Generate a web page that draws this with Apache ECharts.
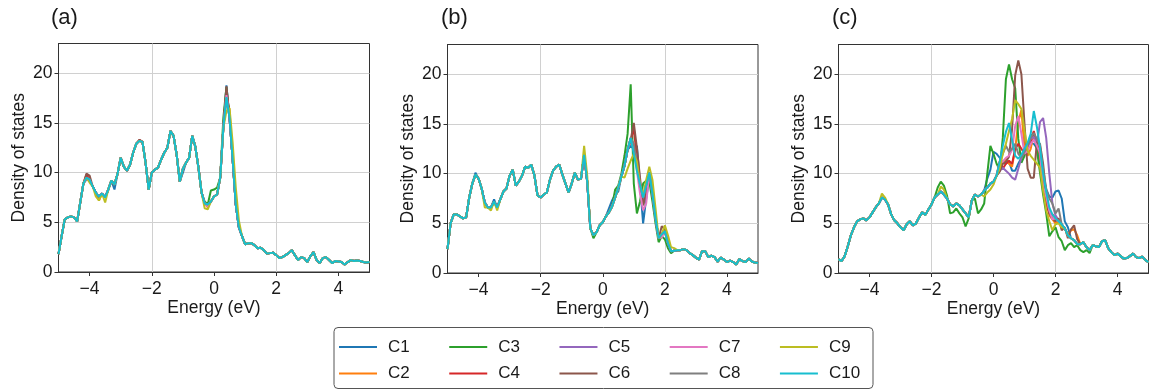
<!DOCTYPE html>
<html><head><meta charset="utf-8">
<script src="https://cdn.jsdelivr.net/npm/echarts@6/dist/echarts.min.js"></script>
<style>html,body{margin:0;padding:0;background:#fff}#chart{width:1149px;height:390px}</style>
</head><body><div id="chart"></div>
<script>
// ---------- data ----------
const energy = [
 -5.0,-4.9,-4.8,-4.7,-4.6,-4.5,-4.4,-4.3,-4.2,-4.1,
 -4.0,-3.9,-3.8,-3.7,-3.6,-3.5,-3.4,-3.3,-3.2,-3.1,
 -3.0,-2.9,-2.8,-2.7,-2.6,-2.5,-2.4,-2.3,-2.2,-2.1,
 -2.0,-1.9,-1.8,-1.7,-1.6,-1.5,-1.4,-1.3,-1.2,-1.1,
 -1.0,-0.9,-0.8,-0.7,-0.6,-0.5,-0.4,-0.3,-0.2,-0.1,
 0.0,0.1,0.2,0.3,0.4,0.5,0.6,0.7,0.8,0.9,
 1.0,1.1,1.2,1.3,1.4,1.5,1.6,1.7,1.8,1.9,
 2.0,2.1,2.2,2.3,2.4,2.5,2.6,2.7,2.8,2.9,
 3.0,3.1,3.2,3.3,3.4,3.5,3.6,3.7,3.8,3.9,
 4.0,4.1,4.2,4.3,4.4,4.5,4.6,4.7,4.8,4.9,
 5.0];
const seriesNames = ['C1','C2','C3','C4','C5','C6','C7','C8','C9','C10'];
const seriesColors = ['#1f77b4','#ff7f0e','#2ca02c','#d62728','#9467bd','#8c564b','#e377c2','#7f7f7f','#bcbd22','#17becf'];
const panelTitles = ['(a)','(b)','(c)'];
const xTicks = [-4,-2,0,2,4];
const yTicks = [0,5,10,15,20];

// common curve of each panel (C10, drawn on top)
const dosA = [
 1.8,3.6,5.3,5.5,5.6,5.5,5.1,7.0,8.9,9.5,
 9.3,8.6,8.0,7.6,7.9,7.5,8.3,9.2,8.8,9.9,
 11.5,10.6,10.2,10.8,12.0,12.9,13.2,13.1,11.0,8.3,
 10.0,10.3,10.5,11.3,12.0,12.5,14.2,13.7,11.8,9.1,
 10.4,11.0,11.5,13.7,12.6,10.5,8.0,6.9,6.8,7.1,
 7.6,7.8,9.5,14.5,17.6,15.5,11.3,6.8,4.5,3.6,
 2.8,2.9,2.9,2.7,2.4,2.45,2.2,1.85,1.9,1.95,
 1.7,1.4,1.5,1.7,1.9,2.2,1.7,1.2,1.5,1.4,
 1.0,1.6,2.0,1.2,0.9,1.4,1.5,1.2,0.9,1.1,
 1.05,1.0,0.75,1.0,1.2,1.1,1.15,1.1,1.0,0.95,
 1.0];
const dosB = [
 2.4,5.0,5.9,5.9,5.7,5.5,5.6,7.6,9.0,9.9,
 9.5,8.5,7.1,6.6,6.6,7.2,6.6,7.4,8.2,8.5,
 9.8,10.4,8.8,9.2,9.8,10.7,10.6,10.9,9.8,7.8,
 7.6,7.9,8.1,9.4,10.3,10.7,10.9,9.9,9.0,8.1,
 9.0,10.1,9.4,9.5,11.9,9.2,4.5,3.8,4.1,4.8,
 5.1,5.7,6.1,6.7,7.6,8.6,9.7,10.8,12.4,13.6,
 12.0,10.3,8.9,7.6,8.8,10.1,8.0,5.5,3.5,3.9,
 4.2,3.0,2.2,2.25,2.3,2.3,2.4,2.3,2.0,1.8,
 1.55,1.35,2.2,2.2,1.6,1.75,1.6,1.15,1.55,1.35,
 1.1,1.25,1.1,0.85,1.4,1.2,1.1,1.45,1.15,1.05,
 1.0];
const dosC = [
 1.4,1.2,1.7,2.7,3.8,4.6,5.2,5.4,5.5,5.3,
 5.6,6.1,6.6,7.0,7.6,7.4,6.9,5.9,5.3,5.0,
 4.6,4.3,4.9,5.2,4.8,5.0,5.6,6.1,5.85,6.4,
 6.9,7.6,7.9,8.2,7.9,7.5,6.9,6.7,7.0,6.8,
 6.4,6.0,5.6,7.3,7.9,7.7,7.9,8.3,8.6,9.0,
 9.2,9.8,11.2,12.8,14.2,15.1,13.4,11.8,11.5,11.9,
 12.5,13.1,14.0,16.3,14.7,12.6,10.0,8.2,6.6,5.9,
 5.5,5.2,4.9,4.5,3.8,3.5,3.3,2.9,2.9,3.1,
 2.6,2.3,2.8,2.7,2.6,3.2,3.3,2.5,2.1,1.8,
 1.95,1.7,1.45,1.5,1.7,1.95,1.6,1.5,1.65,1.3,
 1.1];

// where a configuration departs from the common curve: [energy, DOS]
const devA = {
 C1: [[-3.2,8.3],[-1.0,10.0],[0.4,18.8]],
 C2: [[-3.7,7.2],[-0.2,6.5],[0.5,16.3]],
 C3: [[-0.3,7.1],[-0.1,8.2],[0.0,8.3],[0.1,8.5],[0.3,15.5],[0.4,18.6]],
 C4: [[-4.1,9.8],[-2.4,13.3],[0.4,18.2]],
 C5: [[-4.1,9.3],[0.4,17.9]],
 C6: [[-4.1,9.9],[-4.0,9.7],[-2.4,13.3],[0.4,18.7]],
 C7: [[-0.2,6.6],[0.4,17.8]],
 C8: [[-3.7,7.4],[0.4,17.5]],
 C9: [[-4.0,9.0],[-3.8,7.6],[-3.7,7.2],[-3.5,7.0],[-0.3,6.4],[-0.2,6.3],[0.4,16.2],[0.5,16.5],[0.6,13.0],[0.7,8.5],[0.8,5.2]],
 C10: []
};
const devB = {
 C1: [[-4.1,10.1],[-3.5,7.4],[0.2,6.5],[0.3,7.3],[0.4,7.9],[0.5,8.2],[0.9,12.8],[1.0,12.5],[1.1,12.8],[1.2,9.0],[1.3,5.0],[1.4,7.5],[1.5,9.6]],
 C2: [[1.0,12.9],[1.1,11.5],[1.3,7.2],[2.0,4.5]],
 C3: [[-0.3,3.5],[0.4,8.4],[0.5,8.8],[0.6,10.0],[0.7,11.8],[0.8,14.0],[0.9,19.0],[1.0,9.0],[1.1,6.0],[1.2,7.2],[1.3,9.0],[1.4,9.3],[1.5,9.2],[1.6,7.2],[1.7,5.0],[1.8,3.1],[1.9,3.7],[2.0,3.4],[2.1,2.5],[2.2,2.0]],
 C4: [[0.9,13.3],[1.0,14.6],[1.1,11.5],[1.3,7.0]],
 C5: [[1.0,12.3],[1.1,11.8],[1.3,7.2]],
 C6: [[0.9,13.4],[1.0,15.1],[1.1,12.6],[1.2,9.6],[1.3,6.8],[1.4,8.0],[1.9,4.7],[2.0,4.4]],
 C7: [[1.0,12.5],[1.2,8.0],[1.3,6.3],[1.4,7.0],[1.9,3.6]],
 C8: [[1.0,13.0],[1.1,11.0]],
 C9: [[-3.8,6.6],[-3.6,6.3],[-3.4,6.3],[-0.6,12.8],[-0.5,9.8],[0.7,9.6],[0.8,10.5],[0.9,11.3],[1.0,12.0],[1.1,11.2],[1.3,7.8],[1.4,9.4],[1.5,10.7],[1.6,9.4],[1.7,6.5],[1.9,3.9],[2.0,4.8],[2.1,3.8],[2.2,2.6],[2.3,2.5]],
 C10: []
};
const devC = {
 C1: [[-0.2,9.5],[-0.1,10.4],[0.0,12.2],[0.1,12.0],[0.2,11.6],[0.3,11.1],[0.4,11.0],[0.5,11.2],[0.6,10.3],[0.7,10.3],[0.8,11.0],[0.9,11.6],[1.0,12.1],[1.1,12.8],[1.2,13.1],[1.3,13.0],[1.4,12.6],[1.5,11.0],[1.6,9.8],[1.7,8.4],[1.8,7.7],[1.9,7.6],[2.0,8.2],[2.1,8.3],[2.2,7.5],[2.3,5.2],[2.4,4.6]],
 C2: [[0.3,11.0],[0.4,11.5],[0.5,11.0],[0.6,10.7],[0.7,12.5],[0.8,15.2],[0.9,16.4],[1.0,12.5],[1.1,11.8],[1.2,12.5],[1.3,14.0],[1.4,13.2],[1.5,11.8],[1.6,9.5],[1.7,7.5],[1.8,5.8],[1.9,5.4],[2.0,5.0],[2.5,4.3],[2.6,4.4],[2.7,3.8]],
 C3: [[-1.8,8.6],[-1.7,9.2],[-1.6,8.8],[-1.5,7.8],[-1.4,6.0],[-1.3,6.1],[-1.2,6.5],[-1.1,6.0],[-1.0,5.6],[-0.9,4.7],[-0.8,5.5],[-0.7,7.3],[-0.6,7.5],[-0.5,6.0],[-0.4,6.4],[-0.3,7.0],[-0.2,10.0],[-0.1,12.8],[0.0,12.0],[0.1,11.0],[0.2,10.4],[0.3,13.6],[0.4,19.5],[0.5,21.0],[0.6,19.5],[0.7,18.6],[0.8,13.5],[0.9,11.1],[1.0,11.8],[1.1,12.8],[1.2,13.8],[1.3,14.1],[1.4,12.4],[1.5,10.1],[1.6,7.9],[1.7,6.0],[1.8,3.7],[1.9,4.2],[2.0,4.6],[2.1,3.6],[2.2,3.2],[2.3,2.3],[2.4,2.8],[2.5,3.0],[2.6,2.6],[2.7,2.8],[2.8,2.3],[2.9,2.1],[3.0,2.3],[3.1,2.0]],
 C4: [[0.3,10.5],[0.4,11.0],[0.5,11.3],[0.6,11.0],[0.7,12.5],[0.8,13.0],[0.9,12.5],[1.0,12.0],[1.1,12.5],[1.2,13.2],[1.3,14.3],[1.4,13.0],[1.5,12.0],[1.6,9.5],[1.7,7.0],[1.8,6.0]],
 C5: [[0.2,10.3],[0.3,10.6],[0.4,10.3],[0.5,10.0],[0.6,9.6],[0.7,9.4],[0.8,10.5],[0.9,11.6],[1.0,12.2],[1.1,12.8],[1.2,13.5],[1.3,13.7],[1.4,12.9],[1.5,15.2],[1.6,15.6],[1.7,13.6],[1.8,10.0],[1.9,7.0],[2.0,5.8],[2.1,5.3],[2.2,4.7]],
 C6: [[0.2,10.2],[0.3,11.0],[0.4,11.2],[0.5,11.7],[0.6,14.5],[0.7,19.9],[0.8,21.4],[0.9,20.0],[1.0,15.0],[1.1,10.5],[1.2,9.6],[1.3,9.6],[1.4,13.2],[1.5,13.0],[1.6,11.0],[1.7,8.0],[1.8,6.0],[1.9,5.5],[2.0,5.2],[2.1,5.5],[2.2,4.3],[2.3,4.6],[2.4,3.5],[2.5,4.4],[2.6,4.8],[2.7,3.4]],
 C7: [[0.3,11.2],[0.4,11.6],[0.5,11.8],[0.6,12.4],[0.7,14.8],[0.8,15.8],[0.9,14.0],[1.0,12.0],[1.1,12.3],[1.2,13.0],[1.3,13.4],[1.4,12.8],[1.5,12.1],[1.6,8.7],[1.7,7.7],[1.8,6.3],[1.9,5.4]],
 C8: [[0.3,12.0],[0.4,12.8],[0.5,12.2],[0.6,12.5],[0.7,13.0],[0.8,12.0],[0.9,11.6],[1.0,12.2],[1.1,12.8],[1.2,13.6],[1.3,14.1],[1.4,13.5],[1.5,12.8],[1.6,10.5],[1.7,8.5],[1.8,7.5],[1.9,7.0],[2.0,6.0],[2.1,6.5]],
 C9: [[-3.6,8.0],[-3.5,7.6],[-1.7,8.7],[-1.6,8.4],[-0.3,7.7],[-0.2,8.1],[-0.1,8.4],[0.0,8.9],[0.1,9.8],[0.2,10.5],[0.3,12.0],[0.4,13.0],[0.5,14.3],[0.6,15.5],[0.7,17.4],[0.8,17.0],[0.9,16.5],[1.0,14.3],[1.1,12.3],[1.2,11.8],[1.3,11.4],[1.4,11.0],[1.5,10.6],[1.6,8.3],[1.7,6.3],[1.8,5.2],[1.9,4.3],[2.0,4.9],[2.1,5.0],[2.2,4.6]],
 C10: []
};

// ---------- chart ----------
const FONT = '"Liberation Sans", Arial, sans-serif';
const TXT = '#1a1a1a';
const grids = [
  {left: 58.5, top: 43.5, width: 311, height: 228.5},
  {left: 447.5, top: 44.5, width: 310.5, height: 228.5},
  {left: 838.5, top: 44.5, width: 310, height: 228.5}
];
const titleLeft = [51, 441, 832];

function buildSeries(base, dev, name) {
  const m = new Map((dev[name] || []).map(p => [p[0].toFixed(1), p[1]]));
  return energy.map((e, i) => [e, m.has(e.toFixed(1)) ? m.get(e.toFixed(1)) : base[i]]);
}
const fmt = v => (v < 0 ? '\u2212' + (-v) : String(v));

const panels = [[dosA, devA], [dosB, devB], [dosC, devC]];
const series = [];
panels.forEach(([base, dev], p) => {
  seriesNames.forEach((n, k) => {
    series.push({
      type: 'line', name: n, xAxisIndex: p, yAxisIndex: p,
      data: buildSeries(base, dev, n),
      symbol: 'none', showSymbol: false, clip: true,
      lineStyle: {width: 2, color: seriesColors[k]},
      itemStyle: {color: seriesColors[k]},
      emphasis: {disabled: true}
    });
  });
});

const option = {
  animation: false,
  backgroundColor: '#fff',
  textStyle: {fontFamily: FONT},
  title: panelTitles.map((t, i) => ({
    text: t, left: titleLeft[i], top: 7, padding: 0,
    textStyle: {fontSize: 22, fontWeight: 'normal', color: TXT, fontFamily: FONT}
  })),
  grid: grids.map(g => Object.assign({show: true, borderColor: '#333', borderWidth: 1, backgroundColor: 'transparent'}, g)),
  xAxis: grids.map((g, i) => ({
    gridIndex: i, type: 'value', min: -5, max: 5, interval: 1,
    name: 'Energy (eV)', nameLocation: 'middle', nameGap: 27, nameMoveOverlap: false,
    nameTextStyle: {fontSize: 17.5, color: TXT, fontFamily: FONT},
    axisLine: {show: true, onZero: false, lineStyle: {color: '#333', width: 1}},
    axisTick: {show: true, customValues: xTicks, length: 4, lineStyle: {color: '#333'}},
    axisLabel: {customValues: xTicks, formatter: fmt, fontSize: 17.5, color: TXT, margin: 8, fontFamily: FONT},
    splitLine: {show: true, lineStyle: {color: ['rgba(0,0,0,0)', '#d0d0d0'], width: 1}}
  })),
  yAxis: grids.map((g, i) => ({
    gridIndex: i, type: 'value', min: 0, max: 23, interval: 5,
    name: 'Density of states', nameLocation: 'middle', nameGap: 30,
    nameTextStyle: {fontSize: 17.5, color: TXT, fontFamily: FONT},
    axisLine: {show: true, onZero: false, lineStyle: {color: '#333', width: 1}},
    axisTick: {show: true, customValues: yTicks, length: 4, lineStyle: {color: '#333'}},
    axisLabel: {customValues: yTicks, fontSize: 17.5, color: TXT, margin: 6, fontFamily: FONT},
    splitLine: {show: true, lineStyle: {color: '#d0d0d0', width: 1}}
  })),
  legend: [
    {data: ['C1','C3','C5','C7','C9'], left: 339, top: 338.5},
    {data: ['C2','C4','C6','C8','C10'], left: 339, top: 365}
  ].map(l => Object.assign({
    orient: 'horizontal', padding: 0, itemWidth: 38, itemHeight: 2, itemGap: 39.5,
    icon: 'rect', selectedMode: false,
    textStyle: {fontSize: 17, color: TXT, fontFamily: FONT, padding: [0, 0, 0, 6]}
  }, l)),
  graphic: [{
    type: 'rect', left: 333.5, top: 327, z: -1,
    shape: {width: 539, height: 61, r: 4},
    style: {fill: '#fff', stroke: '#555', lineWidth: 1}
  }],
  series: series
};
const chart = echarts.init(document.getElementById('chart'), null, {renderer: 'canvas'});
chart.setOption(option);
</script></body></html>
